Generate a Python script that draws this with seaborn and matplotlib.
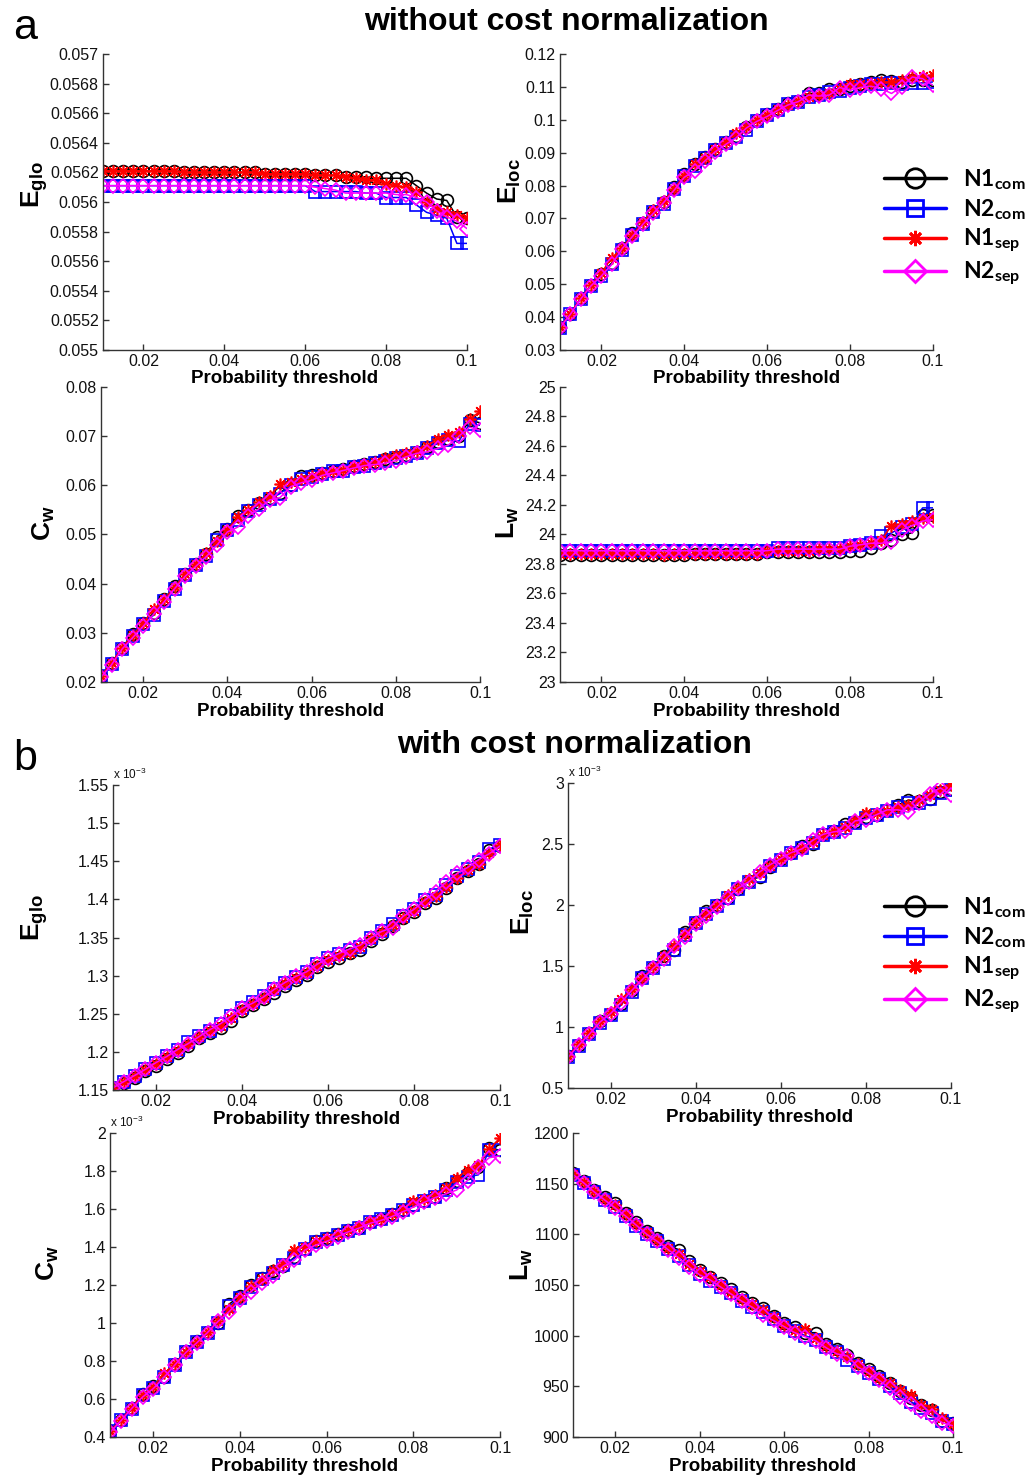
import numpy as np
import pandas as pd
import matplotlib
matplotlib.use("Agg")
import matplotlib.pyplot as plt
import seaborn as sns
from matplotlib.lines import Line2D
from matplotlib.ticker import FuncFormatter, MultipleLocator

# ---------------- data ----------------
threshold = [0.01, 0.0125, 0.015, 0.0175, 0.02, 0.0225, 0.025, 0.0275, 0.03, 0.0325,
             0.035, 0.0375, 0.04, 0.0425, 0.045, 0.0475, 0.05, 0.0525, 0.055, 0.0575,
             0.06, 0.0625, 0.065, 0.0675, 0.07, 0.0725, 0.075, 0.0775, 0.08, 0.0825,
             0.085, 0.0875, 0.09, 0.0925, 0.095, 0.0975, 0.1]

series_names = ["N1com", "N2com", "N1sep", "N2sep"]
series_labels = [r"$\mathsf{N1}_{\mathsf{com}}$", r"$\mathsf{N2}_{\mathsf{com}}$",
                 r"$\mathsf{N1}_{\mathsf{sep}}$", r"$\mathsf{N2}_{\mathsf{sep}}$"]

# (a) without cost normalization
a_eglo_N1com = [0.05621]*8 + [0.05620]*8 + [0.05619]*5 + [0.05618]*3 + [0.05617]*3 + \
    [0.05616]*4 + [0.05611, 0.05606, 0.05602, 0.05601, 0.05590, 0.05589]
a_eglo_N2com = [0.05611]*21 + [0.05607]*5 + [0.05606]*2 + [0.05603]*3 + \
    [0.05598, 0.05593, 0.05591, 0.05589, 0.05572, 0.05572]
a_eglo_N1sep = [0.05621]*8 + [0.05620]*8 + [0.05619]*5 + [0.05618]*3 + \
    [0.05617, 0.05616, 0.05615, 0.05615, 0.05612, 0.05611, 0.05610, 0.05607,
     0.05600, 0.05595, 0.05593, 0.05591, 0.05589]
a_eglo_N2sep = [0.05611]*21 + [0.05610, 0.05609, 0.05608, 0.05606, 0.05606, 0.05606,
                               0.05606, 0.05606, 0.05605, 0.05605, 0.05603, 0.05600,
                               0.05594, 0.05590, 0.05587, 0.05582]

a_eloc_N1com = [0.0370, 0.0410, 0.0458, 0.0498, 0.0530, 0.0565, 0.0610, 0.0655, 0.0687, 0.0722,
                0.0750, 0.0795, 0.0835, 0.0865, 0.0888, 0.0912, 0.0932, 0.0952, 0.0977, 0.1000,
                0.1017, 0.1033, 0.1050, 0.1058, 0.1080, 0.1080, 0.1092, 0.1095, 0.1102, 0.1108,
                0.1115, 0.1120, 0.1118, 0.1115, 0.1120, 0.1122, 0.1122]
a_eloc_N2com = [0.0368, 0.0408, 0.0455, 0.0495, 0.0526, 0.0562, 0.0605, 0.0648, 0.0683, 0.0718,
                0.0745, 0.0788, 0.0828, 0.0860, 0.0883, 0.0908, 0.0928, 0.0948, 0.0970, 0.0995,
                0.1013, 0.1030, 0.1048, 0.1053, 0.1070, 0.1075, 0.1083, 0.1088, 0.1098, 0.1102,
                0.1108, 0.1110, 0.1112, 0.1110, 0.1112, 0.1112, 0.1115]
a_eloc_N1sep = [0.0370, 0.0410, 0.0457, 0.0497, 0.0535, 0.0580, 0.0610, 0.0650, 0.0688, 0.0725,
                0.0752, 0.0790, 0.0830, 0.0865, 0.0885, 0.0912, 0.0932, 0.0960, 0.0978, 0.0998,
                0.1015, 0.1032, 0.1045, 0.1058, 0.1068, 0.1075, 0.1082, 0.1095, 0.1108, 0.1108,
                0.1112, 0.1115, 0.1115, 0.1120, 0.1130, 0.1132, 0.1135]
a_eloc_N2sep = [0.0368, 0.0408, 0.0455, 0.0495, 0.0525, 0.0560, 0.0608, 0.0645, 0.0682, 0.0715,
                0.0748, 0.0785, 0.0825, 0.0845, 0.0875, 0.0903, 0.0925, 0.0945, 0.0975, 0.0995,
                0.1010, 0.1028, 0.1045, 0.1055, 0.1075, 0.1072, 0.1075, 0.1098, 0.1090, 0.1098,
                0.1102, 0.1095, 0.1080, 0.1100, 0.1130, 0.1125, 0.1105]

a_cw_N1com = [0.0213, 0.0238, 0.0270, 0.0297, 0.0320, 0.0340, 0.0368, 0.0395, 0.0420, 0.0440,
              0.0460, 0.0495, 0.0512, 0.0537, 0.0550, 0.0563, 0.0575, 0.0585, 0.0600, 0.0618,
              0.0620, 0.0625, 0.0630, 0.0633, 0.0640, 0.0643, 0.0648, 0.0653, 0.0658, 0.0662,
              0.0668, 0.0678, 0.0688, 0.0695, 0.0700, 0.0732, 0.0727]
a_cw_N2com = [0.0212, 0.0236, 0.0268, 0.0293, 0.0317, 0.0336, 0.0365, 0.0390, 0.0418, 0.0437,
              0.0457, 0.0488, 0.0510, 0.0530, 0.0547, 0.0560, 0.0572, 0.0583, 0.0600, 0.0612,
              0.0617, 0.0623, 0.0628, 0.0630, 0.0638, 0.0640, 0.0645, 0.0650, 0.0655, 0.0660,
              0.0665, 0.0675, 0.0685, 0.0692, 0.0690, 0.0725, 0.0722]
a_cw_N1sep = [0.0213, 0.0238, 0.0270, 0.0295, 0.0320, 0.0348, 0.0368, 0.0393, 0.0420, 0.0440,
              0.0462, 0.0487, 0.0510, 0.0535, 0.0550, 0.0565, 0.0578, 0.0602, 0.0607, 0.0613,
              0.0618, 0.0625, 0.0630, 0.0632, 0.0640, 0.0643, 0.0648, 0.0655, 0.0662, 0.0665,
              0.0670, 0.0680, 0.0695, 0.0702, 0.0708, 0.0735, 0.0750]
a_cw_N2sep = [0.0210, 0.0235, 0.0267, 0.0290, 0.0313, 0.0338, 0.0363, 0.0390, 0.0415, 0.0435,
              0.0455, 0.0478, 0.0505, 0.0515, 0.0538, 0.0552, 0.0570, 0.0575, 0.0597, 0.0605,
              0.0610, 0.0620, 0.0625, 0.0630, 0.0635, 0.0640, 0.0642, 0.0645, 0.0650, 0.0658,
              0.0665, 0.0668, 0.0675, 0.0682, 0.0700, 0.0718, 0.0712]

a_lw_N1com = [23.86]*13 + [23.87]*7 + [23.88]*8 + [23.89, 23.89, 23.91, 23.94, 23.96, 24.00,
                                                   24.01, 24.13, 24.13]
a_lw_N2com = [23.89]*21 + [23.91]*7 + [23.92, 23.93, 23.94, 23.99, 24.01, 24.05, 24.07,
                                       24.18, 24.18]
a_lw_N1sep = [23.87]*10 + [23.86] + [23.87]*9 + [23.89]*5 + [23.90]*3 + \
    [23.92, 23.93, 23.94, 23.96, 24.06, 24.07, 24.09, 24.11, 24.12]
a_lw_N2sep = [23.89]*21 + [23.90]*7 + [23.92, 23.93, 23.94, 23.94, 23.95, 24.03, 24.06,
                                       24.09, 24.10]

# (b) with cost normalization (values in units of 1e-3 where the axis shows x 10^-3)
b_eglo_N1com = [1.151, 1.159, 1.166, 1.175, 1.182, 1.191, 1.199, 1.208, 1.218, 1.225, 1.231, 1.241,
                1.254, 1.261, 1.269, 1.277, 1.286, 1.294, 1.301, 1.311, 1.318, 1.323, 1.330, 1.334,
                1.345, 1.355, 1.365, 1.375, 1.383, 1.395, 1.402, 1.415, 1.428, 1.437, 1.447, 1.465,
                1.470]
b_eglo_N2com = [1.153, 1.161, 1.169, 1.177, 1.185, 1.195, 1.203, 1.213, 1.221, 1.228, 1.236, 1.247,
                1.258, 1.265, 1.273, 1.282, 1.291, 1.298, 1.305, 1.315, 1.323, 1.328, 1.333, 1.338,
                1.349, 1.358, 1.368, 1.378, 1.387, 1.399, 1.406, 1.419, 1.431, 1.440, 1.449, 1.466,
                1.472]
b_eglo_N1sep = [1.152, 1.160, 1.168, 1.176, 1.184, 1.193, 1.201, 1.210, 1.219, 1.227, 1.234, 1.245,
                1.255, 1.263, 1.271, 1.281, 1.290, 1.297, 1.304, 1.313, 1.321, 1.326, 1.330, 1.337,
                1.348, 1.357, 1.367, 1.376, 1.385, 1.397, 1.404, 1.416, 1.428, 1.438, 1.447, 1.461,
                1.471]
b_eglo_N2sep = [1.153, 1.161, 1.169, 1.177, 1.186, 1.194, 1.203, 1.211, 1.220, 1.229, 1.237, 1.247,
                1.257, 1.264, 1.272, 1.282, 1.291, 1.299, 1.305, 1.315, 1.323, 1.329, 1.335, 1.340,
                1.350, 1.358, 1.363, 1.378, 1.387, 1.399, 1.410, 1.423, 1.434, 1.442, 1.452, 1.460,
                1.470]

b_eloc_N1com = [0.76, 0.85, 0.95, 1.05, 1.11, 1.19, 1.30, 1.42, 1.49, 1.58, 1.63, 1.78, 1.86, 1.95,
                2.00, 2.06, 2.13, 2.20, 2.23, 2.31, 2.38, 2.43, 2.48, 2.50, 2.58, 2.61, 2.66, 2.68,
                2.72, 2.74, 2.78, 2.82, 2.86, 2.85, 2.87, 2.93, 2.95]
b_eloc_N2com = [0.75, 0.84, 0.94, 1.03, 1.10, 1.18, 1.29, 1.40, 1.48, 1.56, 1.63, 1.75, 1.85, 1.93,
                1.99, 2.06, 2.13, 2.19, 2.24, 2.32, 2.37, 2.43, 2.47, 2.51, 2.57, 2.60, 2.63, 2.67,
                2.71, 2.74, 2.77, 2.80, 2.84, 2.84, 2.87, 2.92, 2.94]
b_eloc_N1sep = [0.76, 0.86, 0.95, 1.05, 1.12, 1.23, 1.31, 1.40, 1.49, 1.58, 1.66, 1.76, 1.86, 1.93,
                2.00, 2.08, 2.14, 2.21, 2.26, 2.32, 2.38, 2.43, 2.47, 2.52, 2.57, 2.61, 2.64, 2.70,
                2.75, 2.75, 2.77, 2.80, 2.82, 2.86, 2.90, 2.94, 2.98]
b_eloc_N2sep = [0.75, 0.85, 0.94, 1.04, 1.11, 1.20, 1.30, 1.39, 1.48, 1.56, 1.66, 1.74, 1.84, 1.91,
                1.98, 2.06, 2.14, 2.19, 2.27, 2.33, 2.38, 2.43, 2.46, 2.53, 2.58, 2.60, 2.61, 2.69,
                2.70, 2.74, 2.78, 2.78, 2.76, 2.84, 2.91, 2.96, 2.90]

b_cw_N1com = [0.43, 0.49, 0.555, 0.625, 0.67, 0.715, 0.785, 0.855, 0.905, 0.955, 1.00, 1.10, 1.14,
              1.20, 1.235, 1.275, 1.30, 1.345, 1.39, 1.43, 1.45, 1.47, 1.49, 1.50, 1.53, 1.55,
              1.575, 1.595, 1.62, 1.64, 1.665, 1.71, 1.75, 1.79, 1.82, 1.92, 1.91]
b_cw_N2com = [0.43, 0.49, 0.55, 0.62, 0.66, 0.715, 0.78, 0.85, 0.90, 0.95, 1.00, 1.09, 1.13, 1.19,
              1.23, 1.265, 1.305, 1.34, 1.39, 1.425, 1.44, 1.465, 1.485, 1.50, 1.53, 1.545, 1.57,
              1.595, 1.62, 1.64, 1.665, 1.70, 1.74, 1.77, 1.78, 1.91, 1.91]
b_cw_N1sep = [0.43, 0.49, 0.555, 0.62, 0.665, 0.735, 0.785, 0.85, 0.90, 0.955, 1.01, 1.075, 1.135,
              1.195, 1.23, 1.28, 1.31, 1.385, 1.40, 1.43, 1.45, 1.47, 1.49, 1.51, 1.535, 1.55,
              1.575, 1.60, 1.64, 1.655, 1.675, 1.71, 1.765, 1.805, 1.83, 1.915, 1.975]
b_cw_N2sep = [0.425, 0.485, 0.55, 0.61, 0.655, 0.715, 0.78, 0.845, 0.895, 0.95, 1.01, 1.06, 1.12,
              1.165, 1.21, 1.25, 1.30, 1.33, 1.385, 1.41, 1.43, 1.455, 1.48, 1.50, 1.525, 1.54,
              1.56, 1.585, 1.61, 1.635, 1.66, 1.68, 1.70, 1.75, 1.82, 1.87, 1.88]

b_lw_N1com = [1161, 1153, 1144, 1137, 1131, 1121, 1112, 1103, 1096, 1089, 1085, 1074, 1065, 1058,
              1052, 1046, 1038, 1032, 1027, 1019, 1013, 1009, 1003, 1003, 992, 987, 981, 973, 967,
              960, 953, 945, 938, 932, 927, 916, 914]
b_lw_N2com = [1159, 1151, 1142, 1134, 1127, 1118, 1108, 1100, 1093, 1086, 1079, 1070, 1061, 1054,
              1048, 1042, 1034, 1028, 1023, 1016, 1010, 1005, 1000, 996, 989, 984, 976, 970, 963,
              957, 950, 943, 935, 929, 924, 916, 913]
b_lw_N1sep = [1160, 1152, 1143, 1135, 1129, 1120, 1110, 1102, 1094, 1087, 1081, 1071, 1064, 1058,
              1050, 1043, 1036, 1031, 1025, 1018, 1011, 1006, 1007, 998, 990, 985, 979, 972, 965,
              958, 953, 946, 941, 932, 928, 919, 913]
b_lw_N2sep = [1159, 1151, 1142, 1134, 1126, 1118, 1109, 1100, 1093, 1085, 1077, 1068, 1060, 1055,
              1048, 1041, 1034, 1028, 1020, 1015, 1009, 1003, 999, 995, 988, 982, 980, 969, 963,
              956, 948, 939, 933, 926, 921, 914, 911]

# ---------------- style ----------------
sns.set_theme(style="ticks")
plt.rcParams['font.family'] = ['Liberation Sans', 'DejaVu Sans']
plt.rcParams['mathtext.fontset'] = 'custom'
plt.rcParams['mathtext.rm'] = 'Liberation Sans'
plt.rcParams['mathtext.bf'] = 'Liberation Sans:bold'
plt.rcParams['mathtext.sf'] = 'Lato:bold'
plt.rcParams['axes.linewidth'] = 1.0
plt.rcParams['axes.edgecolor'] = '#333333'
plt.rcParams['text.color'] = 'black'
plt.rcParams['axes.labelcolor'] = 'black'

colors = ["#000000", "#0000ff", "#ff0000", "#ff00ff"]
markers = ["o", "s", (8, 2, 0), "D"]
msizes = [8.5, 8.0, 8.5, 7.0]
leg_msizes = [14, 11.5, 11, 11]

fig = plt.figure(figsize=(10.32, 14.79), dpi=100)

def fmt(v, pos):
    return f"{round(v, 6):g}"

panels = [
    ([a_eglo_N1com, a_eglo_N2com, a_eglo_N1sep, a_eglo_N2sep], [0.0998, 0.7634, 0.3527, 0.2001],
     (0.055, 0.057), 0.0002, r"$\mathbf{E}_{\mathbf{glo}}$", (-0.187, 0.56), False),
    ([a_eloc_N1com, a_eloc_N2com, a_eloc_N1sep, a_eloc_N2sep], [0.5426, 0.7634, 0.3614, 0.2001],
     (0.03, 0.12), 0.01, r"$\mathbf{E}_{\mathbf{loc}}$", (-0.134, 0.57), False),
    ([a_cw_N1com, a_cw_N2com, a_cw_N1sep, a_cw_N2sep], [0.0979, 0.5389, 0.3673, 0.1995],
     (0.02, 0.08), 0.01, r"$\mathbf{C}_{\mathbf{w}}$", (-0.150, 0.54), False),
    ([a_lw_N1com, a_lw_N2com, a_lw_N1sep, a_lw_N2sep], [0.5426, 0.5389, 0.3614, 0.1995],
     (23, 25), 0.2, r"$\mathbf{L}_{\mathbf{w}}$", (-0.140, 0.54), False),
    ([b_eglo_N1com, b_eglo_N2com, b_eglo_N1sep, b_eglo_N2sep], [0.1095, 0.2630, 0.3750, 0.2062],
     (1.15, 1.55), 0.05, r"$\mathbf{E}_{\mathbf{glo}}$", (-0.204, 0.567), True),
    ([b_eloc_N1com, b_eloc_N2com, b_eloc_N1sep, b_eloc_N2sep], [0.5504, 0.2644, 0.3711, 0.2062],
     (0.5, 3.0), 0.5, r"$\mathbf{E}_{\mathbf{loc}}$", (-0.117, 0.577), True),
    ([b_cw_N1com, b_cw_N2com, b_cw_N1sep, b_cw_N2sep], [0.1066, 0.0284, 0.3779, 0.2055],
     (0.4, 2.0), 0.2, r"$\mathbf{C}_{\mathbf{w}}$", (-0.159, 0.572), True),
    ([b_lw_N1com, b_lw_N2com, b_lw_N1sep, b_lw_N2sep], [0.5552, 0.0284, 0.3682, 0.2055],
     (900, 1200), 50, r"$\mathbf{L}_{\mathbf{w}}$", (-0.135, 0.566), False),
]

for series, rect, ylim, ystep, ylabel, lxy, sci in panels:
    ax = fig.add_axes(rect)
    for vals, name, c, m, ms in zip(series, series_names, colors, markers, msizes):
        df = pd.DataFrame({"threshold": threshold, "value": vals})
        sns.lineplot(data=df, x="threshold", y="value", ax=ax, color=c, marker=m,
                     markersize=ms, markerfacecolor="none", markeredgecolor=c,
                     markeredgewidth=1.2, linewidth=1.1, legend=False, errorbar=None)
    ax.set_xlim(0.01, 0.1)
    ax.set_ylim(*ylim)
    ax.xaxis.set_major_locator(MultipleLocator(0.02))
    ax.yaxis.set_major_locator(MultipleLocator(ystep))
    ax.xaxis.set_major_formatter(FuncFormatter(fmt))
    ax.yaxis.set_major_formatter(FuncFormatter(fmt))
    for s in ["top", "right"]:
        ax.spines[s].set_visible(False)
    ax.tick_params(direction="in", length=4, width=1, labelsize=11.5, colors="#333333",
                   labelcolor="#111111", pad=3)
    ax.set_xlabel("Probability threshold", fontsize=13.5, fontweight="bold", labelpad=1,
                  color="black")
    ax.set_ylabel(ylabel, fontsize=19, color="black", va="center")
    ax.yaxis.set_label_coords(*lxy)
    if sci:
        ax.text(0.0, 1.01, r"x 10$^{-3}$", transform=ax.transAxes, fontsize=8.5,
                ha="left", va="bottom", color="#111111")

# legends
handles = [Line2D([0], [0], color=c, marker=m, markersize=ms, markerfacecolor="none",
                  markeredgecolor=c, markeredgewidth=2.0, linewidth=2.5)
           for c, m, ms in zip(colors, markers, leg_msizes)]
for ypos in [0.846, 0.354]:
    fig.legend(handles, series_labels, loc="center left", bbox_to_anchor=(0.857, ypos),
               frameon=False, fontsize=16.5, handlelength=2.7, handletextpad=0.75,
               labelspacing=0.22, borderpad=0, borderaxespad=0)

# titles and panel letters
fig.text(0.549, 0.985, "without cost normalization", fontsize=23, fontweight="bold",
         ha="center", va="center", color="black")
fig.text(0.557, 0.496, "with cost normalization", fontsize=23, fontweight="bold",
         ha="center", va="center", color="black")
fig.text(0.024, 0.981, "a", fontsize=31, ha="center", va="center", color="black")
fig.text(0.024, 0.487, "b", fontsize=31, ha="center", va="center", color="black")

fig.savefig("out.png", dpi=100, facecolor="white")
